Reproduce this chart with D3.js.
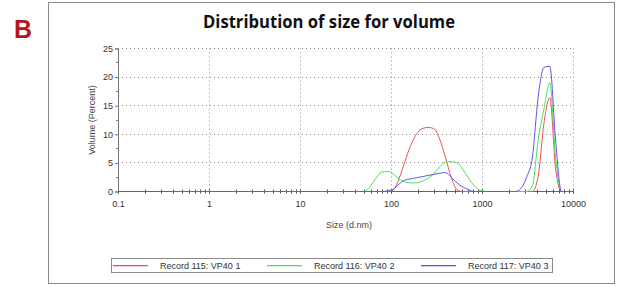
<!DOCTYPE html>
<html>
<head>
<meta charset="utf-8">
<script src="https://cdn.jsdelivr.net/npm/d3@7"></script>
<style>
  html, body { margin: 0; padding: 0; background: #fff; }
  svg { display: block; }
</style>
</head>
<body>
<svg id="chart" width="626" height="287"></svg>
<script>
// ---- data (size in d.nm, volume in %) ----
const panelLabel = "B";
const chartTitle = "Distribution of size for volume";
const xTickValues = [0.1, 1, 10, 100, 1000, 10000];
const xTickLabels = ["0.1", "1", "10", "100", "1000", "10000"];
const yTickValues = [0, 5, 10, 15, 20, 25];
const xAxisTitle = "Size (d.nm)";
const yAxisTitle = "Volume (Percent)";
const seriesNames = ["Record 115: VP40 1", "Record 116: VP40 2", "Record 117: VP40 3"];
const seriesColors = ["#f0505a", "#4fe05a", "#5a5ae6"];

const record115 = [
  [0.4, 0], [91.28, 0], [105.7, 0.3], [122.4, 2.2], [141.8, 5.2], [164.2, 8.0],
  [190.1, 10.0], [220.2, 11.0], [255.0, 11.2], [295.3, 11.0], [342.0, 9.2],
  [396.1, 6.0], [458.7, 2.5], [531.2, 0.3], [615.1, 0], [3580, 0], [4145, 2.7],
  [4801, 12.0], [5560, 16.4], [6439, 4.0], [7456, 0], [10000, 0]
];
const record116 = [
  [0.4, 0], [50.75, 0], [58.77, 0.8], [68.06, 2.3], [78.82, 3.4], [91.28, 3.5],
  [105.7, 3.1], [122.4, 2.2], [141.8, 1.7], [164.2, 1.5], [190.1, 1.5],
  [220.2, 1.8], [255.0, 2.3], [295.3, 3.1], [342.0, 4.3], [396.1, 5.1],
  [458.7, 5.2], [531.2, 5.0], [615.1, 3.9], [712.4, 2.3], [825.0, 1.0],
  [955.4, 0.2], [1106, 0], [3091, 0], [3580, 1.0], [4145, 9.0], [4801, 14.5],
  [5560, 19.0], [6439, 6.0], [7456, 0], [10000, 0]
];
const record117 = [
  [0.4, 0], [78.82, 0], [91.28, 0.1], [105.7, 0.4], [122.4, 1.3], [141.8, 2.0],
  [164.2, 2.2], [190.1, 2.4], [220.2, 2.6], [255.0, 2.8], [295.3, 3.0],
  [342.0, 3.2], [396.1, 3.3], [458.7, 2.5], [531.2, 1.5], [615.1, 0.8],
  [712.4, 0.3], [825.0, 0], [2305, 0], [2669, 0.5], [3091, 2.5], [3580, 6.0],
  [4145, 16.6], [4801, 21.7], [5560, 21.9], [6439, 9.0], [7456, 0], [10000, 0]
];
const seriesData = [record115, record116, record117];

// ---- layout ----
const svg = d3.select("#chart");
const plot = { left: 118, right: 573, top: 48.5, bottom: 191.5 };

const x = d3.scaleLog().domain([0.1, 10000]).range([plot.left, plot.right]);
const y = d3.scaleLinear().domain([0, 25]).range([plot.bottom, plot.top]);

// outer frame
svg.append("rect")
  .attr("x", 48.5).attr("y", 2.5).attr("width", 566).attr("height", 281)
  .attr("fill", "#fff").attr("stroke", "#8a8a8a").attr("stroke-width", 1);

// panel label
svg.append("text")
  .attr("x", 14).attr("y", 38)
  .attr("font-family", "Liberation Sans, Arial, sans-serif")
  .attr("font-weight", "bold").attr("font-size", 25)
  .attr("fill", "#b8141c")
  .text(panelLabel);

// title
svg.append("text")
  .attr("x", 329).attr("y", 28)
  .attr("text-anchor", "middle")
  .attr("font-family", "Open Sans, Lato, sans-serif")
  .attr("font-weight", "bold").attr("font-size", 17.5)
  .attr("fill", "#111")
  .attr("textLength", 252).attr("lengthAdjust", "spacingAndGlyphs")
  .text(chartTitle);

// grid
const grid = svg.append("g");
grid.selectAll("line.gy").data(yTickValues.filter(d => d > 0)).enter().append("line")
  .attr("x1", plot.left).attr("x2", plot.right)
  .attr("y1", d => Math.floor(y(d)) + 0.5).attr("y2", d => Math.floor(y(d)) + 0.5)
  .attr("stroke", "#8c8c8c").attr("stroke-width", 1).attr("stroke-dasharray", "1,3");
grid.selectAll("line.gx").data(xTickValues.filter(d => d > 0.1)).enter().append("line")
  .attr("x1", d => Math.round(x(d)) + 0.5).attr("x2", d => Math.round(x(d)) + 0.5)
  .attr("y1", plot.top).attr("y2", plot.bottom)
  .attr("stroke", "#8c8c8c").attr("stroke-width", 1).attr("stroke-dasharray", "1,3");

// y axis
const yAxis = d3.axisLeft(y).tickValues(yTickValues).tickSize(3).tickPadding(2).tickFormat(d3.format("d"));
const gy = svg.append("g").attr("transform", `translate(${plot.left},0)`).call(yAxis);
gy.select(".domain").attr("stroke", "#777");
gy.selectAll(".tick line").attr("stroke", "#777");
gy.selectAll("text").attr("font-family", "Liberation Sans, Arial, sans-serif")
  .attr("font-size", 9).attr("fill", "#333");
// y minor ticks
const yMinor = d3.range(2.5, 25, 5);
svg.append("g").selectAll("line").data(yMinor).enter().append("line")
  .attr("x1", plot.left - 2).attr("x2", plot.left + 0.5)
  .attr("y1", d => Math.floor(y(d)) + 0.5).attr("y2", d => Math.floor(y(d)) + 0.5)
  .attr("stroke", "#888");

// x axis (domain path lands on y(0))
const xAxis = d3.axisBottom(x).tickValues(xTickValues).tickSize(3).tickPadding(7)
  .tickFormat((d, i) => xTickLabels[i]);
const gx = svg.append("g").attr("transform", `translate(0,${plot.bottom - 0.5})`).call(xAxis);
gx.select(".domain").attr("stroke", "#666");
gx.selectAll(".tick line").attr("stroke", "#666").attr("y1", -2);
gx.selectAll("text").attr("font-family", "Liberation Sans, Arial, sans-serif")
  .attr("font-size", 9).attr("fill", "#333");
// x minor ticks
const xMinor = [];
xTickValues.slice(0, -1).forEach(dec => { for (let k = 2; k <= 9; k++) xMinor.push(dec * k); });
svg.append("g").selectAll("line").data(xMinor).enter().append("line")
  .attr("x1", d => Math.round(x(d)) + 0.5).attr("x2", d => Math.round(x(d)) + 0.5)
  .attr("y1", plot.bottom - 2).attr("y2", plot.bottom + 2)
  .attr("stroke", "#555");

// axis titles
svg.append("text")
  .attr("transform", `translate(95,120) rotate(-90)`)
  .attr("text-anchor", "middle")
  .attr("font-family", "Liberation Sans, Arial, sans-serif")
  .attr("font-size", 9).attr("fill", "#444")
  .text(yAxisTitle);
svg.append("text")
  .attr("x", 349).attr("y", 228)
  .attr("text-anchor", "middle")
  .attr("font-family", "Liberation Sans, Arial, sans-serif")
  .attr("font-size", 9).attr("fill", "#444")
  .text(xAxisTitle);

// series
const lineGen = d3.line().x(d => x(d[0])).y(d => y(d[1])).curve(d3.curveMonotoneX);
svg.append("g").selectAll("path").data(seriesData).enter().append("path")
  .attr("d", lineGen)
  .attr("fill", "none")
  .attr("stroke", (d, i) => seriesColors[i])
  .attr("stroke-width", 1)
  .attr("stroke-linejoin", "round");

// legend
const legend = svg.append("g");
legend.append("rect")
  .attr("x", 111.5).attr("y", 258.5).attr("width", 441).attr("height", 14)
  .attr("fill", "#fff").attr("stroke", "#8a8a8a");
const legX = [113, 267, 421];
seriesNames.forEach((name, i) => {
  legend.append("rect")
    .attr("x", legX[i]).attr("y", 265)
    .attr("width", 35).attr("height", 1.3)
    .attr("fill", seriesColors[i]);
  legend.append("text")
    .attr("x", legX[i] + 47).attr("y", 269)
    .attr("font-family", "Liberation Sans, Arial, sans-serif")
    .attr("font-size", 9).attr("fill", "#333")
    .text(name);
});
</script>
</body>
</html>
